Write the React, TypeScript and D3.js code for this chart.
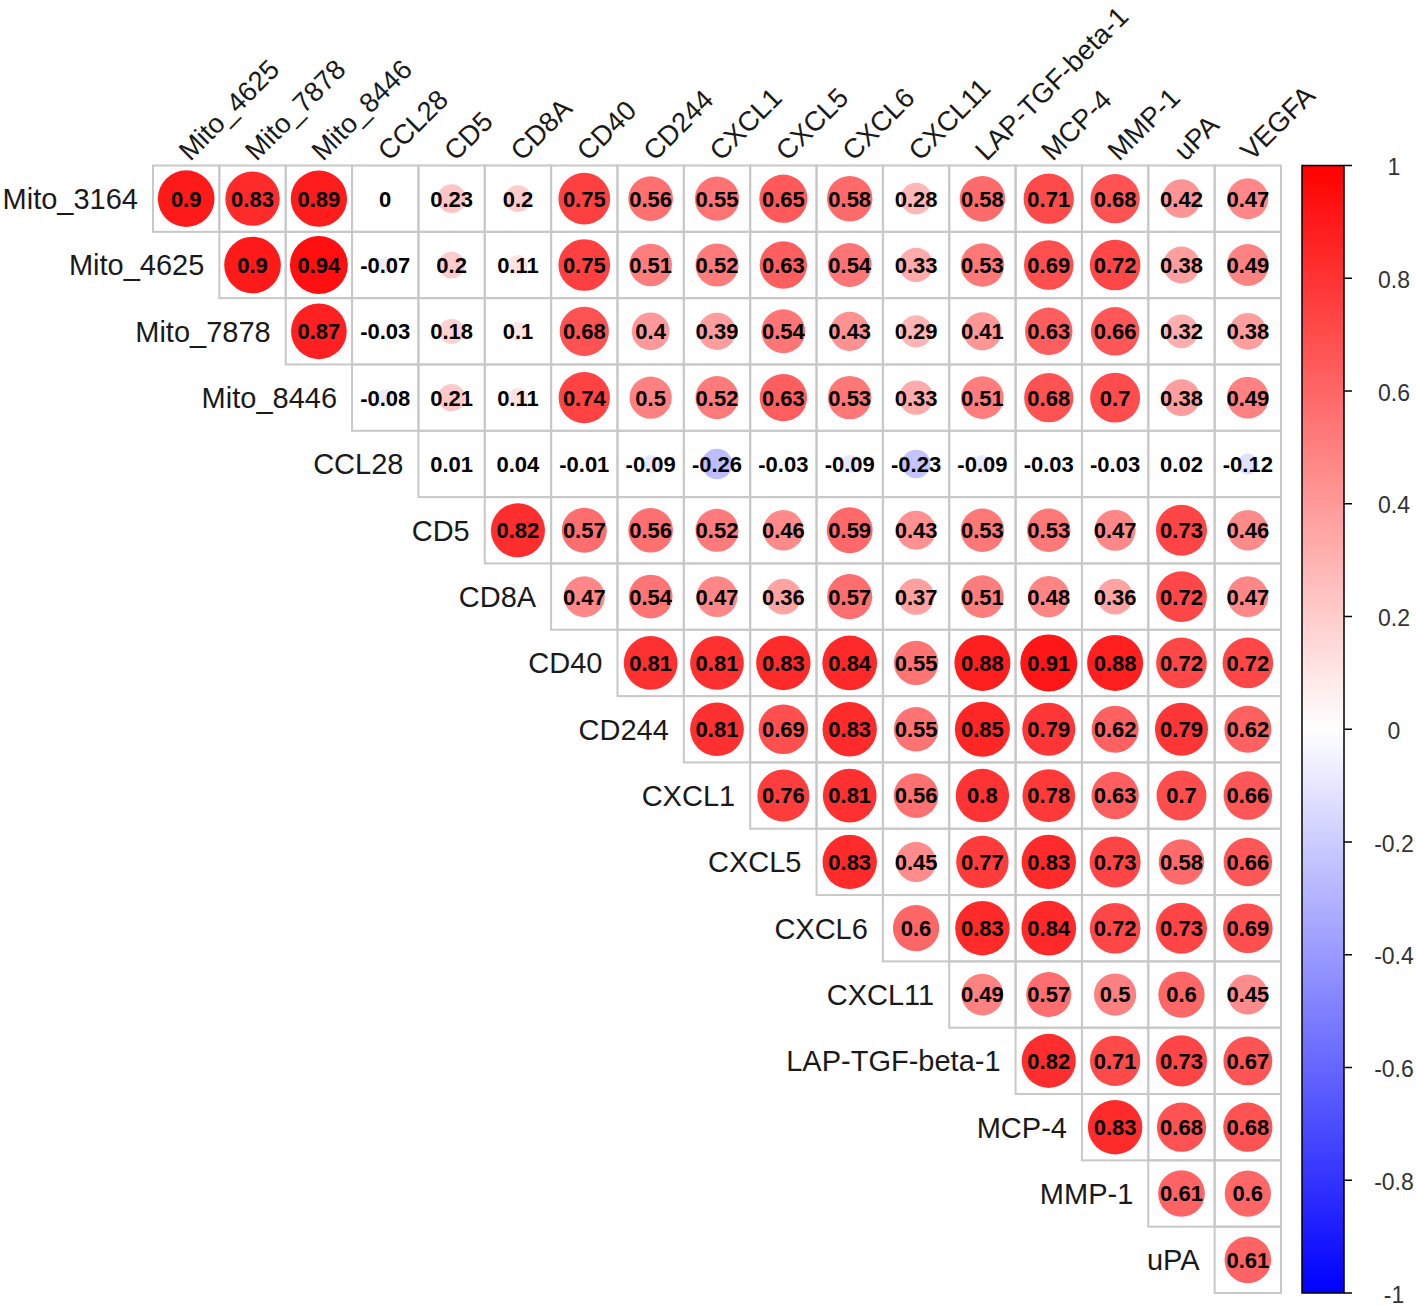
import * as d3 from 'd3';
import { useEffect, useRef } from 'react';

// variable order along both axes (upper triangle, no diagonal)
const variables = [
  'Mito_3164', 'Mito_4625', 'Mito_7878', 'Mito_8446', 'CCL28', 'CD5', 'CD8A', 'CD40',
  'CD244', 'CXCL1', 'CXCL5', 'CXCL6', 'CXCL11', 'LAP-TGF-beta-1', 'MCP-4', 'MMP-1',
  'uPA', 'VEGFA',
];
const rowNames = variables.slice(0, -1);
const colNames = variables.slice(1);

// each row holds the correlations with the variables that follow it
const mito3164 = [0.9, 0.83, 0.89, 0, 0.23, 0.2, 0.75, 0.56, 0.55, 0.65, 0.58, 0.28, 0.58, 0.71, 0.68, 0.42, 0.47];
const mito4625 = [0.9, 0.94, -0.07, 0.2, 0.11, 0.75, 0.51, 0.52, 0.63, 0.54, 0.33, 0.53, 0.69, 0.72, 0.38, 0.49];
const mito7878 = [0.87, -0.03, 0.18, 0.1, 0.68, 0.4, 0.39, 0.54, 0.43, 0.29, 0.41, 0.63, 0.66, 0.32, 0.38];
const mito8446 = [-0.08, 0.21, 0.11, 0.74, 0.5, 0.52, 0.63, 0.53, 0.33, 0.51, 0.68, 0.7, 0.38, 0.49];
const ccl28 = [0.01, 0.04, -0.01, -0.09, -0.26, -0.03, -0.09, -0.23, -0.09, -0.03, -0.03, 0.02, -0.12];
const cd5 = [0.82, 0.57, 0.56, 0.52, 0.46, 0.59, 0.43, 0.53, 0.53, 0.47, 0.73, 0.46];
const cd8a = [0.47, 0.54, 0.47, 0.36, 0.57, 0.37, 0.51, 0.48, 0.36, 0.72, 0.47];
const cd40 = [0.81, 0.81, 0.83, 0.84, 0.55, 0.88, 0.91, 0.88, 0.72, 0.72];
const cd244 = [0.81, 0.69, 0.83, 0.55, 0.85, 0.79, 0.62, 0.79, 0.62];
const cxcl1 = [0.76, 0.81, 0.56, 0.8, 0.78, 0.63, 0.7, 0.66];
const cxcl5 = [0.83, 0.45, 0.77, 0.83, 0.73, 0.58, 0.66];
const cxcl6 = [0.6, 0.83, 0.84, 0.72, 0.73, 0.69];
const cxcl11 = [0.49, 0.57, 0.5, 0.6, 0.45];
const lapTgf = [0.82, 0.71, 0.73, 0.67];
const mcp4 = [0.83, 0.68, 0.68];
const mmp1 = [0.61, 0.6];
const upa = [0.61];

const corrRows = [
  mito3164, mito4625, mito7878, mito8446, ccl28, cd5, cd8a, cd40, cd244,
  cxcl1, cxcl5, cxcl6, cxcl11, lapTgf, mcp4, mmp1, upa,
];

const legendTicks = [1, 0.8, 0.6, 0.4, 0.2, 0, -0.2, -0.4, -0.6, -0.8, -1];

const FONT = '"Liberation Sans", Arial, sans-serif';

export default function App() {
  const ref = useRef<SVGSVGElement>(null);

  useEffect(() => {
    const svg = d3.select(ref.current);
    svg.selectAll('*').remove();

    const x = d3.scaleBand().domain(colNames).range([153, 1281]);
    const y = d3.scaleBand().domain(rowNames).range([165.5, 1293]);
    const bw = x.bandwidth();
    const color = d3
      .scaleLinear<string>()
      .domain([-1, 0, 1])
      .range(['#0000FF', '#FFFFFF', '#FF0000']);
    const radius = d3.scaleSqrt().domain([0, 1]).range([0, bw * 0.45]);

    const cells = corrRows.flatMap((vals, i) =>
      vals.map((v, k) => ({ row: rowNames[i], col: colNames[i + k], v }))
    );

    // grid
    svg
      .append('g')
      .selectAll('rect')
      .data(cells)
      .enter()
      .append('rect')
      .attr('x', (d) => x(d.col)!)
      .attr('y', (d) => y(d.row)!)
      .attr('width', bw)
      .attr('height', y.bandwidth())
      .style('fill', 'none')
      .style('stroke', '#c8c8c8')
      .style('stroke-width', '2px');

    // circles
    svg
      .append('g')
      .selectAll('circle')
      .data(cells)
      .enter()
      .append('circle')
      .attr('cx', (d) => x(d.col)! + bw / 2)
      .attr('cy', (d) => y(d.row)! + y.bandwidth() / 2)
      .attr('r', (d) => radius(Math.abs(d.v)))
      .style('fill', (d) => color(d.v));

    // numbers
    svg
      .append('g')
      .selectAll('text')
      .data(cells)
      .enter()
      .append('text')
      .attr('x', (d) => x(d.col)! + bw / 2)
      .attr('y', (d) => y(d.row)! + y.bandwidth() / 2)
      .attr('dy', '0.36em')
      .style('text-anchor', 'middle')
      .style('font-family', FONT)
      .style('font-weight', 'bold')
      .style('font-size', '22px')
      .style('fill', '#000')
      .text((d) => String(d.v));

    // row labels, ending just left of each row's first cell
    svg
      .append('g')
      .selectAll('text')
      .data(rowNames)
      .enter()
      .append('text')
      .attr('x', (d, i) => x(colNames[i])! - 15)
      .attr('y', (d) => y(d)! + y.bandwidth() / 2)
      .attr('dy', '0.36em')
      .style('text-anchor', 'end')
      .style('font-family', FONT)
      .style('font-size', '29px')
      .style('fill', '#1a1a1a')
      .text((d) => d);

    // column labels at 45 degrees
    svg
      .append('g')
      .selectAll('text')
      .data(colNames)
      .enter()
      .append('text')
      .attr('transform', (d) => `translate(${x(d)! + bw / 2 + 4},162) rotate(-45)`)
      .style('text-anchor', 'start')
      .style('font-family', FONT)
      .style('font-size', '27.5px')
      .style('fill', '#1a1a1a')
      .text((d) => d);

    // colour legend
    const ly = d3.scaleLinear().domain([1, -1]).range([165.5, 1293]);
    const grad = svg
      .append('defs')
      .append('linearGradient')
      .attr('id', 'corrGrad')
      .attr('x1', 0)
      .attr('y1', 0)
      .attr('x2', 0)
      .attr('y2', 1);
    grad.append('stop').attr('offset', '0%').attr('stop-color', color(1));
    grad.append('stop').attr('offset', '50%').attr('stop-color', color(0));
    grad.append('stop').attr('offset', '100%').attr('stop-color', color(-1));

    svg
      .append('rect')
      .attr('x', 1302)
      .attr('y', ly(1))
      .attr('width', 42)
      .attr('height', ly(-1) - ly(1))
      .style('fill', 'url(#corrGrad)')
      .style('stroke', '#000')
      .style('stroke-width', '1.5px');

    const tick = svg
      .append('g')
      .selectAll('g')
      .data(legendTicks)
      .enter()
      .append('g')
      .attr('transform', (d) => `translate(0,${ly(d)})`);

    tick
      .append('line')
      .attr('x1', 1344)
      .attr('x2', 1352)
      .style('stroke', '#000')
      .style('stroke-width', '1.5px');

    tick
      .append('text')
      .attr('x', 1394)
      .attr('dy', '0.42em')
      .style('text-anchor', 'middle')
      .style('font-family', FONT)
      .style('font-size', '23px')
      .style('fill', '#333')
      .text((d) => String(d));
  }, []);

  return (
    <svg
      ref={ref}
      width={1416}
      height={1305}
      style={{ position: 'absolute', left: 0, top: 0, background: '#fff' }}
    />
  );
}
